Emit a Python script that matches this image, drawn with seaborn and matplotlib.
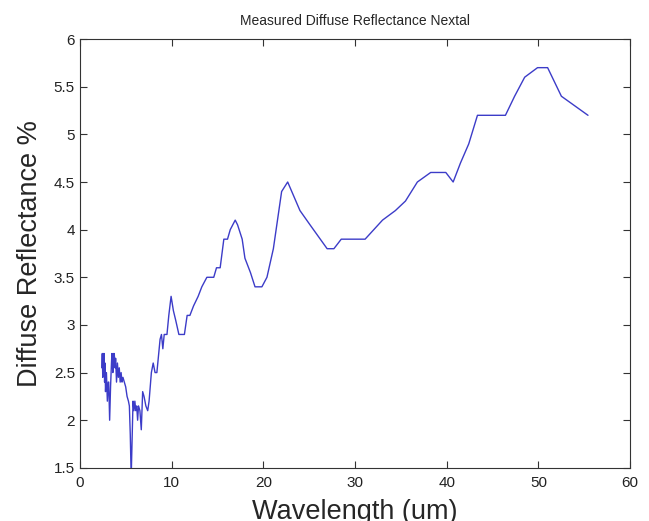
"""
plot.py — measured diffuse reflectance of Nextal vs wavelength (MATLAB-style figure).
"""
import matplotlib
matplotlib.use("Agg")
import matplotlib.pyplot as plt
import pandas as pd
import seaborn as sns

# values
wavelength = [
    2.40, 2.45, 2.50, 2.55, 2.60, 2.65, 2.70, 2.75, 2.80, 2.90, 3.00, 3.10, 3.15,
    3.25, 3.35, 3.45, 3.50, 3.60, 3.65, 3.70, 3.75, 3.85, 3.90, 4.00, 4.10, 4.20,
    4.30, 4.40, 4.50, 4.60, 4.70, 4.85, 5.00, 5.15, 5.30, 5.40, 5.50, 5.60, 5.70,
    5.80, 5.90, 6.00, 6.10, 6.20, 6.30, 6.40, 6.55, 6.70, 6.85, 7.00, 7.20, 7.40,
    7.55, 7.80, 8.00, 8.20, 8.40, 8.60, 8.75, 8.90, 9.05, 9.20, 9.50, 9.70, 9.95,
    10.20, 10.45, 10.80, 11.40, 11.70, 12.00, 12.40, 12.90, 13.30, 13.85, 14.60,
    14.90, 15.30, 15.70, 16.10, 16.40, 16.94, 17.20, 17.70, 18.00, 18.60, 19.10,
    19.85, 20.40, 21.10, 21.70, 22.00, 22.66, 24.00, 25.10, 26.96, 27.70, 28.50,
    31.10, 33.00, 34.40, 35.50, 36.80, 38.25, 39.90, 40.70, 41.50, 42.40, 43.35,
    46.40, 47.40, 48.50, 49.90, 51.00, 52.50, 55.40,
]
reflectance = [
    2.55, 2.70, 2.45, 2.70, 2.50, 2.70, 2.40, 2.60, 2.30, 2.50, 2.20, 2.40, 2.40,
    2.00, 2.35, 2.60, 2.70, 2.50, 2.70, 2.55, 2.70, 2.55, 2.65, 2.40, 2.60, 2.45,
    2.55, 2.40, 2.50, 2.40, 2.45, 2.40, 2.35, 2.25, 2.20, 2.15, 1.85, 1.40, 1.80,
    2.20, 2.10, 2.20, 2.10, 2.15, 2.00, 2.15, 2.10, 1.90, 2.30, 2.25, 2.15, 2.10,
    2.20, 2.50, 2.60, 2.50, 2.50, 2.70, 2.85, 2.90, 2.75, 2.90, 2.90, 3.10, 3.30,
    3.15, 3.05, 2.90, 2.90, 3.10, 3.10, 3.20, 3.30, 3.40, 3.50, 3.50,
    3.60, 3.60, 3.90, 3.90, 4.00, 4.10, 4.05, 3.90, 3.70, 3.55, 3.40,
    3.40, 3.50, 3.80, 4.20, 4.40, 4.50, 4.20, 4.05, 3.80, 3.80, 3.90,
    3.90, 4.10, 4.20, 4.30, 4.50, 4.60, 4.60, 4.50, 4.70, 4.90, 5.20,
    5.20, 5.40, 5.60, 5.70, 5.70, 5.40, 5.20,
]
x_ticks = [0, 10, 20, 30, 40, 50, 60]
y_ticks = [1.5, 2, 2.5, 3, 3.5, 4, 4.5, 5, 5.5, 6]

sns.set_style("ticks")
plt.rcParams["font.family"] = ["Liberation Sans", "DejaVu Sans"]

df = pd.DataFrame({"wl": wavelength, "r": reflectance})

fig = plt.figure(figsize=(6.49, 5.21), dpi=100)
ax = fig.add_axes([0.123, 0.102, 0.848, 0.823])
sns.lineplot(data=df, x="wl", y="r", sort=False, estimator=None,
             color="#3c3cc8", lw=1.0, ax=ax)

ax.set_xlim(0, 60)
ax.set_ylim(1.5, 6)
ax.set_xticks(x_ticks)
ax.set_yticks(y_ticks)
ax.set_yticklabels([f"{t:g}" for t in y_ticks])
ax.tick_params(direction="in", top=True, right=True, length=5, width=0.8,
               labelsize=11, colors="#333333", labelcolor="#222222")
ax.tick_params(axis="x", pad=6)
for s in ax.spines.values():
    s.set_color("#333333")
    s.set_linewidth(0.8)

ax.set_title("Measured Diffuse Reflectance Nextal", fontsize=10, pad=10)
ax.set_xlabel("Wavelength (um)", fontsize=19.5, labelpad=6)
ax.set_ylabel("Diffuse Reflectance %", fontsize=19.5, labelpad=8)

fig.savefig("out.png", dpi=100)
